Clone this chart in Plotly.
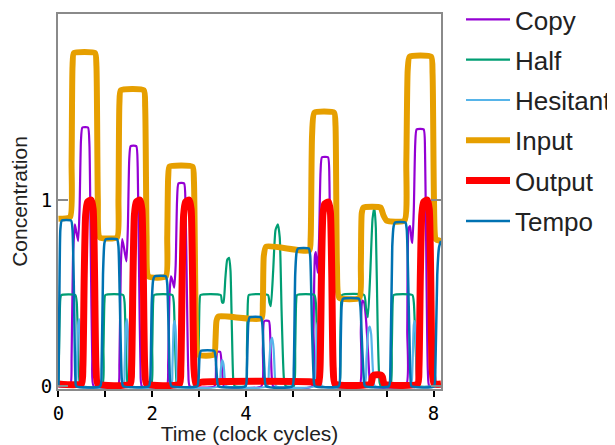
import plotly.graph_objects as go

# ---- data (time in clock cycles, concentration) ----
copy_pts = [(0.00, 0.0), (0.25, 0.0), (0.28, 0.15), (0.31, 0.70), (0.35, 0.87), (0.38, 0.83),
            (0.42, 0.78), (0.45, 0.95), (0.48, 1.32), (0.51, 1.39), (0.63, 1.39), (0.66, 1.30),
            (0.69, 0.70), (0.72, 0.15), (0.75, 0.0),
            (1.27, 0.0), (1.30, 0.12), (1.33, 0.65), (1.36, 0.79), (1.40, 0.74), (1.45, 0.67),
            (1.48, 0.85), (1.51, 1.22), (1.54, 1.29), (1.66, 1.29), (1.69, 1.18), (1.72, 0.60),
            (1.75, 0.10), (1.78, 0.0),
            (2.31, 0.0), (2.34, 0.12), (2.37, 0.50), (2.40, 0.59), (2.43, 0.57), (2.47, 0.53),
            (2.50, 0.65), (2.53, 1.00), (2.56, 1.09), (2.68, 1.09), (2.71, 0.98), (2.74, 0.50),
            (2.77, 0.08), (2.80, 0.0),
            (3.33, 0.0), (3.36, 0.12), (3.39, 0.185), (3.45, 0.185), (3.48, 0.12), (3.51, 0.02),
            (3.53, 0.0),
            (4.33, 0.0), (4.36, 0.20), (4.39, 0.35), (4.49, 0.35), (4.52, 0.25), (4.55, 0.05),
            (4.58, 0.0),
            (5.41, 0.0), (5.44, 0.30), (5.47, 0.70), (5.49, 0.72), (5.51, 0.66), (5.53, 0.61),
            (5.56, 0.80), (5.59, 1.15), (5.62, 1.23), (5.75, 1.23), (5.78, 1.10), (5.81, 0.50),
            (5.84, 0.08), (5.87, 0.0),
            (6.42, 0.0), (6.45, 0.30), (6.48, 0.46), (6.52, 0.45), (6.56, 0.36), (6.60, 0.20),
            (6.64, 0.03), (6.67, 0.0),
            (7.41, 0.0), (7.44, 0.30), (7.47, 0.85), (7.50, 0.86), (7.53, 0.79), (7.55, 0.77),
            (7.58, 0.95), (7.61, 1.30), (7.64, 1.38), (7.79, 1.38), (7.82, 1.25), (7.85, 0.60),
            (7.88, 0.08), (7.91, 0.0), (8.16, 0.0)]

half_pts = [(0.00, 0.0), (0.02, 0.30), (0.04, 0.47), (0.06, 0.49), (0.36, 0.49), (0.39, 0.45),
            (0.42, 0.20), (0.45, 0.02), (0.48, 0.0),
            (0.93, 0.0), (0.96, 0.20), (0.98, 0.45), (1.00, 0.49), (1.38, 0.49), (1.41, 0.45),
            (1.44, 0.20), (1.47, 0.02), (1.50, 0.0),
            (1.97, 0.0), (2.00, 0.20), (2.02, 0.45), (2.04, 0.49), (2.43, 0.49), (2.46, 0.45),
            (2.49, 0.20), (2.52, 0.02), (2.55, 0.0),
            (2.96, 0.0), (2.99, 0.20), (3.01, 0.45), (3.03, 0.49), (3.46, 0.49), (3.49, 0.45),
            (3.52, 0.45), (3.56, 0.58), (3.60, 0.68), (3.64, 0.69), (3.67, 0.62), (3.70, 0.30),
            (3.73, 0.03), (3.76, 0.0),
            (3.99, 0.0), (4.02, 0.20), (4.04, 0.45), (4.06, 0.49), (4.47, 0.49), (4.50, 0.45),
            (4.53, 0.43), (4.58, 0.62), (4.63, 0.84), (4.68, 0.87), (4.72, 0.80), (4.76, 0.40),
            (4.81, 0.04), (4.85, 0.0),
            (5.02, 0.0), (5.05, 0.20), (5.07, 0.45), (5.09, 0.49), (5.46, 0.49), (5.49, 0.45),
            (5.52, 0.20), (5.55, 0.02), (5.58, 0.0),
            (5.98, 0.0), (6.01, 0.20), (6.03, 0.45), (6.05, 0.49), (6.52, 0.49), (6.56, 0.42),
            (6.60, 0.37), (6.65, 0.60), (6.70, 0.90), (6.74, 0.96), (6.77, 0.85), (6.81, 0.30),
            (6.85, 0.02), (6.88, 0.0),
            (7.08, 0.0), (7.11, 0.20), (7.13, 0.45), (7.15, 0.49), (7.55, 0.49), (7.58, 0.45),
            (7.62, 0.20), (7.66, 0.02), (7.69, 0.0), (8.16, 0.0)]

hesitant_pts = [(0.00, 0.0), (0.36, 0.0), (0.39, 0.10), (0.42, 0.33), (0.44, 0.36), (0.46, 0.30),
                (0.49, 0.05), (0.51, 0.0),
                (1.38, 0.0), (1.41, 0.10), (1.44, 0.33), (1.46, 0.36), (1.48, 0.30), (1.51, 0.05),
                (1.53, 0.0),
                (2.40, 0.0), (2.43, 0.10), (2.46, 0.33), (2.48, 0.35), (2.50, 0.30), (2.53, 0.05),
                (2.55, 0.0),
                (3.42, 0.0), (3.46, 0.08), (3.49, 0.14), (3.52, 0.12), (3.55, 0.03), (3.57, 0.0),
                (4.45, 0.0), (4.49, 0.10), (4.53, 0.24), (4.56, 0.26), (4.59, 0.20), (4.62, 0.04),
                (4.64, 0.0),
                (5.46, 0.0), (5.49, 0.10), (5.52, 0.33), (5.55, 0.35), (5.57, 0.30), (5.60, 0.05),
                (5.62, 0.0),
                (6.52, 0.0), (6.57, 0.15), (6.61, 0.30), (6.64, 0.32), (6.67, 0.28), (6.70, 0.12),
                (6.73, 0.01), (6.75, 0.0),
                (7.51, 0.0), (7.55, 0.10), (7.58, 0.33), (7.60, 0.35), (7.62, 0.30), (7.65, 0.05),
                (7.67, 0.0), (8.16, 0.0)]

input_pts = [(0.00, 0.90), (0.25, 0.91), (0.28, 1.20), (0.30, 1.72), (0.33, 1.79), (0.78, 1.79),
             (0.81, 1.72), (0.84, 1.00), (0.88, 0.80), (1.25, 0.80), (1.28, 1.00), (1.30, 1.52),
             (1.33, 1.59), (1.82, 1.59), (1.85, 1.50), (1.88, 0.80), (1.92, 0.59), (2.29, 0.59),
             (2.32, 0.80), (2.34, 1.12), (2.37, 1.18), (2.86, 1.18), (2.89, 1.10), (2.93, 0.35),
             (2.98, 0.17), (3.32, 0.17), (3.35, 0.25), (3.37, 0.35), (3.41, 0.375), (4.33, 0.365),
             (4.36, 0.45), (4.38, 0.70), (4.43, 0.75), (5.35, 0.73), (5.38, 0.80), (5.41, 1.35),
             (5.46, 1.47), (5.88, 1.47), (5.91, 1.40), (5.94, 0.65), (5.99, 0.475), (6.42, 0.475),
             (6.45, 0.65), (6.47, 0.93), (6.51, 0.96), (6.87, 0.96), (6.93, 0.92), (7.00, 0.89),
             (7.38, 0.89), (7.42, 1.20), (7.45, 1.70), (7.49, 1.77), (7.95, 1.77), (7.98, 1.68),
             (8.01, 1.00), (8.05, 0.79), (8.16, 0.78)]

output_pts = [(0.00, 0.012), (0.49, 0.012), (0.52, 0.10), (0.55, 0.60), (0.58, 0.92), (0.62, 0.99),
              (0.70, 1.00), (0.74, 0.95), (0.77, 0.60), (0.80, 0.10), (0.84, 0.012),
              (1.53, 0.012), (1.56, 0.10), (1.59, 0.60), (1.62, 0.92), (1.66, 0.99), (1.74, 1.00),
              (1.78, 0.95), (1.81, 0.60), (1.84, 0.10), (1.88, 0.012),
              (2.58, 0.012), (2.61, 0.10), (2.64, 0.60), (2.67, 0.92), (2.71, 0.99), (2.79, 1.00),
              (2.83, 0.95), (2.86, 0.60), (2.89, 0.10), (2.93, 0.012), (3.05, 0.022),
              (5.45, 0.022), (5.55, 0.012), (5.58, 0.10), (5.61, 0.60), (5.64, 0.92), (5.68, 0.98),
              (5.76, 0.99), (5.80, 0.94), (5.83, 0.60), (5.86, 0.10), (5.90, 0.012),
              (6.66, 0.012), (6.70, 0.05), (6.73, 0.06), (6.88, 0.06), (6.91, 0.05), (6.95, 0.012),
              (7.66, 0.012), (7.69, 0.10), (7.72, 0.60), (7.75, 0.92), (7.79, 0.99), (7.87, 1.00),
              (7.91, 0.95), (7.94, 0.60), (7.97, 0.10), (8.01, 0.012), (8.16, 0.012)]

tempo_pts = [(0.00, 0.0), (0.02, 0.50), (0.04, 0.84), (0.07, 0.89), (0.27, 0.89), (0.30, 0.84),
             (0.33, 0.50), (0.36, 0.05), (0.38, 0.0),
             (0.89, 0.0), (0.92, 0.10), (0.95, 0.60), (0.98, 0.77), (1.01, 0.79), (1.25, 0.79),
             (1.28, 0.75), (1.31, 0.45), (1.35, 0.04), (1.38, 0.0),
             (1.93, 0.0), (1.96, 0.05), (1.99, 0.45), (2.02, 0.57), (2.05, 0.59), (2.29, 0.59),
             (2.32, 0.55), (2.35, 0.30), (2.38, 0.03), (2.41, 0.0),
             (2.96, 0.0), (2.99, 0.05), (3.01, 0.16), (3.04, 0.19), (3.32, 0.19), (3.35, 0.16),
             (3.38, 0.05), (3.41, 0.0),
             (3.99, 0.0), (4.02, 0.10), (4.05, 0.34), (4.08, 0.37), (4.32, 0.37), (4.35, 0.33),
             (4.39, 0.10), (4.43, 0.0),
             (4.99, 0.0), (5.02, 0.10), (5.05, 0.60), (5.08, 0.72), (5.11, 0.74), (5.34, 0.74),
             (5.37, 0.70), (5.41, 0.30), (5.45, 0.02), (5.47, 0.0),
             (5.98, 0.0), (6.01, 0.10), (6.04, 0.43), (6.07, 0.47), (6.41, 0.47), (6.44, 0.43),
             (6.48, 0.20), (6.52, 0.02), (6.54, 0.0),
             (7.05, 0.0), (7.08, 0.10), (7.12, 0.75), (7.15, 0.86), (7.18, 0.88), (7.40, 0.88),
             (7.43, 0.84), (7.47, 0.45), (7.51, 0.04), (7.53, 0.0),
             (8.01, 0.0), (8.04, 0.10), (8.08, 0.60), (8.12, 0.75), (8.16, 0.78)]

series_names = ["Copy", "Half", "Hesitant", "Input", "Output", "Tempo"]
series_colors = ["#9400D3", "#009E73", "#56B4E9", "#E69F00", "#FF0000", "#0072B2"]
series_widths = [2.2, 2.2, 2.2, 6, 7, 2.5]
series_points = [copy_pts, half_pts, hesitant_pts, input_pts, output_pts, tempo_pts]

x_tick_vals = [0, 1, 2, 3, 4, 5, 6, 7, 8]
x_tick_text = ["0", "", "2", "", "4", "", "", "", "8"]
y_tick_vals = [0, 1, 2]
y_tick_text = ["0", "1", ""]

fig = go.Figure()
for name, color, width, pts in zip(series_names, series_colors, series_widths, series_points):
    t = [p[0] for p in pts]
    c = [p[1] for p in pts]
    fig.add_trace(go.Scatter(x=t, y=c, mode="lines", name=name, legendgroup=name,
                             line=dict(color=color, width=width, shape="spline", smoothing=0.5)))

axis_grey = "#8a8a8a"
# the page body adds an 8px offset, so the figure is 607x437 with margins shifted by 8px
fig.update_layout(
    width=607, height=437,
    margin=dict(l=50, r=174, t=6, b=56, autoexpand=False),
    plot_bgcolor="white", paper_bgcolor="white",
    font=dict(family="Liberation Sans, Arial, sans-serif", color="#222"),
    legend=dict(x=453 / 607, y=1.048, xref="container", yref="paper",
                xanchor="left", yanchor="top", font=dict(size=26, family="Liberation Sans"),
                itemwidth=44, traceorder="grouped", tracegroupgap=3.5, maxheight=600,
                bgcolor="rgba(0,0,0,0)"),
    xaxis=dict(range=[-0.01, 8.16], tickvals=x_tick_vals, ticktext=x_tick_text,
               ticks="outside", ticklen=6, tickwidth=2, tickcolor="black",
               showline=True, linecolor=axis_grey, linewidth=2, mirror=True,
               showgrid=False, zeroline=False, automargin=False,
               tickfont=dict(family="DejaVu Sans Mono", size=19, color="black"),
               title=dict(text="Time (clock cycles)", font=dict(size=21), standoff=3)),
    yaxis=dict(range=[-0.015, 2.0], tickvals=y_tick_vals, ticktext=y_tick_text,
               ticks="inside", ticklen=10, tickwidth=2, tickcolor=axis_grey,
               showline=True, linecolor=axis_grey, linewidth=2, mirror="ticks",
               showgrid=False, zeroline=False, automargin=False,
               tickfont=dict(family="DejaVu Sans Mono", size=19, color="black"),
               title=dict(text="Concentration", font=dict(size=21), standoff=8)),
)

fig.write_html("out.html")
